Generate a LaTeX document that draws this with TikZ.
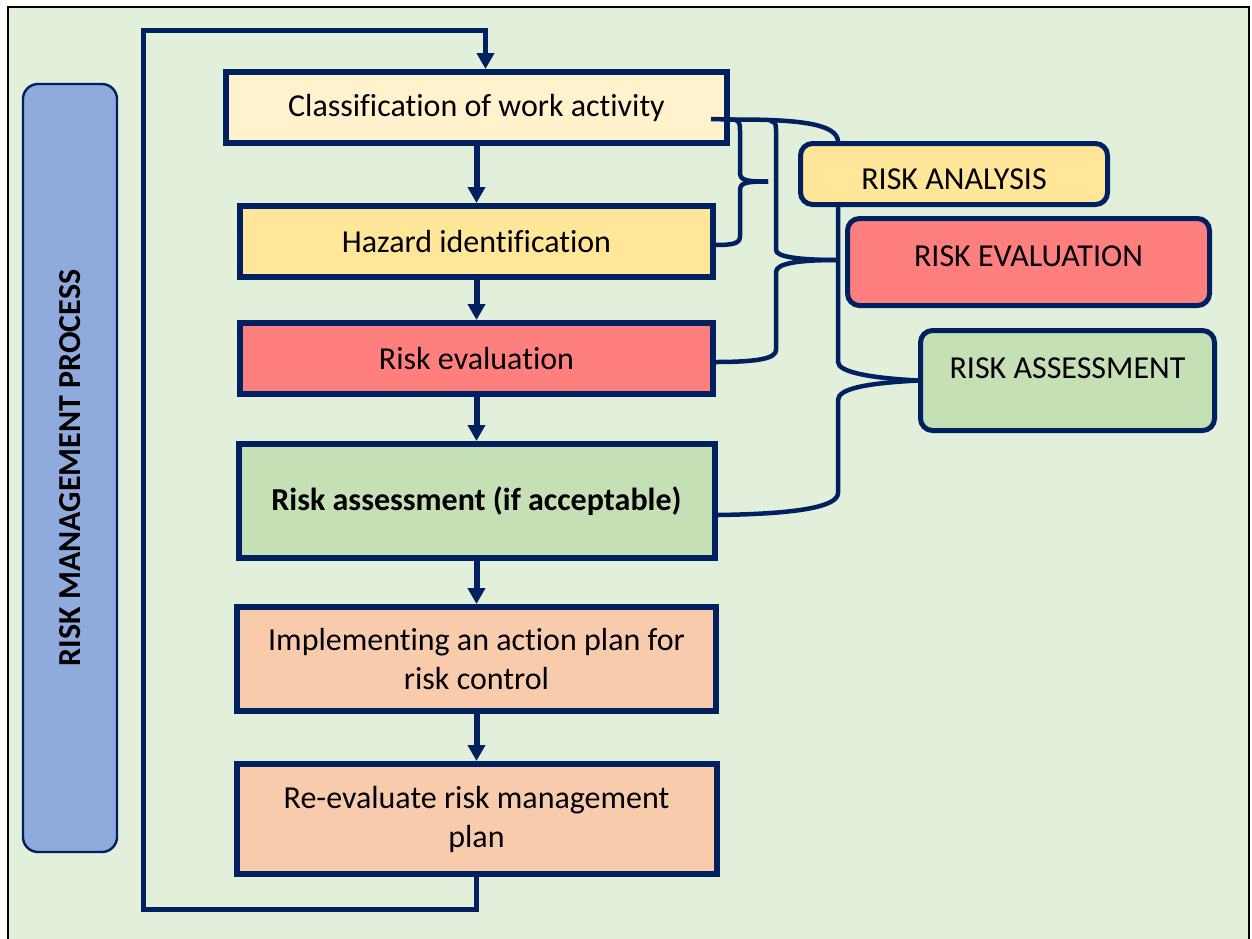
\documentclass[tikz,border=0pt]{standalone}
\usepackage{fontspec}
\setmainfont[Ligatures=NoCommon]{Carlito}
\usepackage{xcolor}
\usetikzlibrary{arrows.meta, positioning, calc}

\definecolor{navy}{HTML}{002060}
\definecolor{bggreen}{HTML}{E2EFDA}
\definecolor{paleyellow}{HTML}{FFF2CC}
\definecolor{gold}{HTML}{FFE699}
\definecolor{salmon}{HTML}{FF7F7F}
\definecolor{sage}{HTML}{C5E0B4}
\definecolor{peach}{HTML}{F8CBAD}
\definecolor{cornflower}{HTML}{8FAADC}

\begin{document}
\begin{tikzpicture}[
    x=0.5pt, y=-0.5pt,
    every node/.style={font=\fontsize{16}{19.5}\selectfont, text=black},
    block/.style={rectangle, draw=navy, line width=3pt, align=center},
    tag/.style={rectangle, draw=navy, line width=2.5pt, rounded corners=6pt, align=center},
    arrow/.style={-{Triangle[width=8.5pt, length=8pt]}, draw=navy, line width=3pt},
    brace/.style={draw=navy, line width=2.25pt}
]

\useasboundingbox (0,0) rectangle (1252,938);
\draw[black, line width=1pt, fill=bggreen] (8,7) rectangle (1249,950);

\node[rectangle, draw=navy, line width=1.2pt, fill=cornflower, rounded corners=7.5pt, rotate=90, minimum width=384pt, minimum height=47pt, font=\fontsize{16}{19.5}\selectfont\bfseries] (side) at (70,468) {RISK MANAGEMENT PROCESS};

\node[block, fill=paleyellow, minimum width=250.5pt, minimum height=35.5pt] (cls) at (476.5,107.5) {Classification of work activity};
\node[block, fill=gold, minimum width=236.5pt, minimum height=35.5pt, below=28.5pt of cls] (haz) {Hazard identification};
\node[block, fill=salmon, minimum width=236.5pt, minimum height=35.5pt, below=20pt of haz] (rev) {Risk evaluation};
\node[block, fill=sage, minimum width=238pt, minimum height=57pt, below=22pt of rev, font=\fontsize{16}{19.5}\selectfont\bfseries] (ras) {Risk assessment (if acceptable)};
\node[block, fill=peach, minimum width=239.5pt, minimum height=52pt, below=21.5pt of ras] (act) {Implementing an action plan for\\risk control};
\node[block, fill=peach, minimum width=240pt, minimum height=55pt, below=23.5pt of act] (ree) {Re-evaluate risk management\\plan};

\foreach \a/\b in {cls/haz, haz/rev, rev/ras, ras/act, act/ree}
    \draw[arrow] (\a) -- (\b);

% feedback loop
\coordinate (lb) at (143,909.5);
\coordinate (lt) at (143,30.5);
\draw[arrow, line width=2.5pt] (ree.south) |- (lb) -- (lt) -| ($(cls.north)+(9,0)$);

% braces
\coordinate (tipA) at (768,181.5);
\coordinate (tipB) at (838,260);
\coordinate (tipC) at (918,380.5);

\draw[brace] ($(cls.east)+(-19,11.5)$) -- (730,119.5) .. controls (740,119.5) and (740,122) .. (740,132) -- (740,172) .. controls (740,180) and (744,181.5) .. (tipA);
\draw[brace] (tipA) .. controls (744,181.5) and (740,183) .. (740,191) -- (740,236) .. controls (740,243) and (735,245) .. ($(haz.east)+(-1,3.5)$);

\draw[brace] (730,119.5) -- (745,119.5) .. controls (800,120) and (838,124) .. (838,142) -- (838,362) .. controls (838,372) and (870,378) .. (tipC);
\draw[brace] (tipC) .. controls (870,383) and (838,388) .. (838,400) -- (838,493) .. controls (838,508) and (790,514) .. ($(ras.east)+(0,14)$);

\draw[brace] (770,121) .. controls (776,121.5) and (776,124) .. (776,132) -- (776,250) .. controls (776,257) and (800,260) .. (tipB);
\draw[brace] (tipB) .. controls (800,260) and (776,263) .. (776,272) -- (776,350) .. controls (776,358) and (760,362) .. ($(rev.east)+(-1,3.5)$);

\node[tag, fill=gold, minimum width=153.5pt, minimum height=30.5pt, text height=15.3pt, text depth=0pt] (pan) at (954,174) {RISK ANALYSIS};
\node[tag, fill=salmon, minimum width=181pt, minimum height=43.5pt, text height=10.3pt, text depth=5.7pt] (pev) at (1028.5,262) {RISK EVALUATION};
\node[tag, fill=sage, minimum width=147pt, minimum height=50pt, text height=10.3pt, text depth=12.5pt, anchor=west] (pas) at (tipC) {RISK ASSESSMENT};

\end{tikzpicture}
\end{document}
